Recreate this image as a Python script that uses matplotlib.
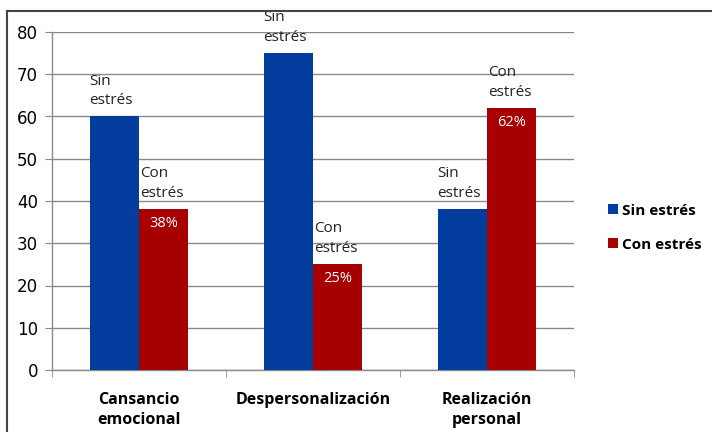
import matplotlib
matplotlib.use("Agg")
import matplotlib.pyplot as plt
from matplotlib.patches import Patch
from matplotlib.lines import Line2D
import numpy as np

categories = ["Cansancio\nemocional", "Despersonalización", "Realización\npersonal"]
sin_estres = [60, 75, 38]
con_estres = [38, 25, 62]
con_labels = ["38%", "25%", "62%"]
series_names = ["Sin estrés", "Con estrés"]
yticks = [0, 10, 20, 30, 40, 50, 60, 70, 80]

BLUE = "#023d9e"
RED = "#a60000"
GRID = "#8a8a8a"

W, H = 712, 432
fig = plt.figure(figsize=(W / 100, H / 100), dpi=100)
ax = fig.add_axes([52 / W, 1 - 370 / H, (574 - 52) / W, (370 - 32) / H])

x = np.arange(len(categories))
bw = 0.283
ax.bar(x - bw / 2, sin_estres, bw, color=BLUE, zorder=3)
ax.bar(x + bw / 2, con_estres, bw, color=RED, zorder=3)

ax.set_xlim(-0.5, len(categories) - 0.5)
ax.set_ylim(0, 80)
ax.set_yticks(yticks)
ax.yaxis.grid(True, color=GRID, linewidth=1, zorder=0)
ax.set_axisbelow(True)

for s in ["top", "right"]:
    ax.spines[s].set_visible(False)
for s in ["left", "bottom"]:
    ax.spines[s].set_color(GRID)
    ax.spines[s].set_linewidth(1)

ax.tick_params(axis="y", length=5, color=GRID, labelsize=12, pad=5)
ax.set_xticks(x)
ax.set_xticklabels(categories, fontweight="bold", fontsize=11.5,
                   family=["Open Sans", "DejaVu Sans"], linespacing=1.3)
ax.tick_params(axis="x", length=0, pad=16)
# tick marks at category boundaries
ax.set_xticks(np.arange(-0.5, len(categories)), minor=True)
ax.tick_params(axis="x", which="minor", length=5, color=GRID)

txt_font = ["Open Sans", "DejaVu Sans"]
for xi, v in zip(x, sin_estres):
    ax.text(xi - bw - 0.005, v + 1.9, "Sin\nestrés", ha="left", va="bottom",
            fontsize=11, family=txt_font, color="#222222", linespacing=1.45)
for xi, v, lab in zip(x, con_estres, con_labels):
    ax.text(xi + 0.005, v + 1.9, "Con\nestrés", ha="left", va="bottom",
            fontsize=11, family=txt_font, color="#222222", linespacing=1.45)
    ax.text(xi + bw / 2, v - 1.6, lab, ha="center", va="top",
            fontsize=10.5, family=txt_font, color="white")

handles = [Patch(facecolor=BLUE), Patch(facecolor=RED)]
fig.legend(handles, series_names, loc="upper left",
           bbox_to_anchor=(594 / W, 1 - 190 / H), frameon=False,
           handlelength=0.65, handleheight=0.65, handletextpad=0.3,
           labelspacing=1.3, prop={"family": txt_font, "weight": "bold", "size": 11})

# outer chart frame
fig.add_artist(Line2D([7 / W, 1], [1 - 11 / H, 1 - 11 / H], color="#444444",
                      linewidth=1.5, transform=fig.transFigure))
fig.add_artist(Line2D([7 / W, 7 / W], [1 - 11 / H, 0], color="#444444",
                      linewidth=1.5, transform=fig.transFigure))

fig.savefig("out.png", dpi=100)
